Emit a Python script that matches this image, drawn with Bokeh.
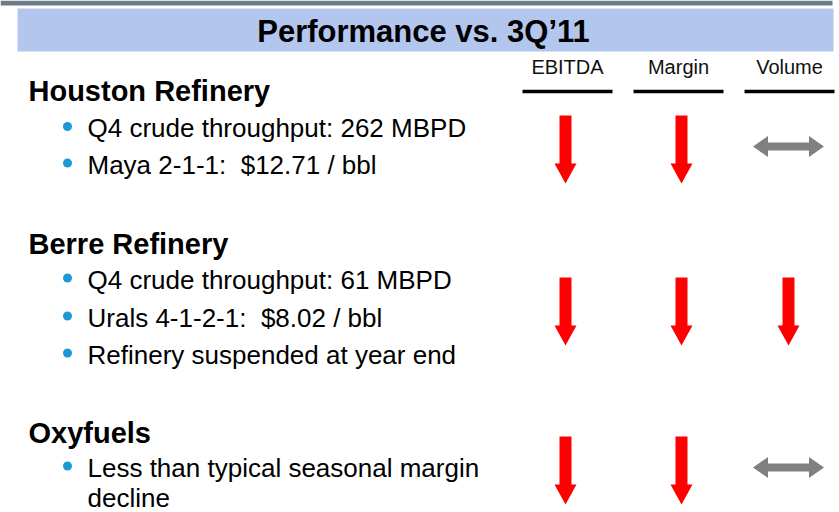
from bokeh.plotting import figure
from bokeh.core.properties import value
from bokeh.embed import file_html
from bokeh.resources import INLINE

# ---------------- data ----------------
title = "Performance vs. 3Q\u201911"
metrics = ["EBITDA", "Margin", "Volume"]
segments = ["Houston Refinery", "Berre Refinery", "Oxyfuels"]
bullets = [
    ["Q4 crude throughput: 262 MBPD", "Maya 2-1-1:\u00a0 $12.71 / bbl"],
    ["Q4 crude throughput: 61 MBPD", "Urals 4-1-2-1:\u00a0 $8.02 / bbl", "Refinery suspended at year end"],
    ["Less than typical seasonal margin\ndecline"],
]
# trend vs 3Q'11 per segment: -1 = down, 0 = unchanged
ebitda_trend = [-1, -1, -1]
margin_trend = [-1, -1, -1]
volume_trend = [0, -1, 0]

# ---------------- layout (style) ----------------
FONT = "Liberation Sans"
W, H = 839, 512
band = dict(left=17, right=833, top=8, bottom=51, color="#b3c6ee")
stripe = dict(left=0, right=832, top=0, bottom=5, color="#6b7b87")
title_xy = (423, 31)
col_center = [567, 678, 789]
col_arrow_x = [565, 681, 788]
header_y = 66
rule_y = 91
rule_half = 45
heading_x = 28
heading_y = [90.5, 243.5, 432]
line_y = [[127.5, 164], [279, 317, 354], [467, 497]]
bullet_x, text_x = 67, 87
arrow_top = [115, 277, 436]
RED, GREY, DOT = "#ff0000", "#808080", "#1b98d5"

p = figure(width=W, height=H, x_range=(0, W), y_range=(H, 0),
           output_backend="svg", toolbar_location=None, min_border=0)
p.axis.visible = False
p.grid.visible = False
p.outline_line_color = None
p.background_fill_color = "white"
p.border_fill_color = "white"

# top stripe and header band
p.quad(left=[stripe["left"]], right=[stripe["right"]], top=[stripe["top"]], bottom=[stripe["bottom"]],
       fill_color=stripe["color"], line_color=None)
p.quad(left=[band["left"]], right=[band["right"]], top=[band["top"]], bottom=[band["bottom"]],
       fill_color=band["color"], line_color=None)
p.text(x=[title_xy[0]], y=[title_xy[1]], text=[title], text_font=value(FONT),
       text_font_size="31px", text_font_style="bold", text_align="center",
       text_baseline="middle", text_color="black")

# column headers & rules
p.text(x=col_center, y=[header_y] * 3, text=metrics, text_font=value(FONT),
       text_font_size="20px", text_align="center", text_baseline="middle",
       text_color="#111111")
p.segment(x0=[c - rule_half for c in col_center], x1=[c + rule_half for c in col_center],
          y0=[rule_y] * 3, y1=[rule_y] * 3, line_color="black", line_width=3.5)

# segment headings
p.text(x=[heading_x] * len(segments), y=heading_y, text=segments,
       text_font=value(FONT), text_font_size="29px", text_font_style="bold",
       text_baseline="middle", text_color="black")

# bullets
bx, by, tx, ty, tt = [], [], [], [], []
for i, items in enumerate(bullets):
    k = 0
    for item in items:
        for j, line in enumerate(item.split("\n")):
            yc = line_y[i][k]
            if j == 0:
                bx.append(bullet_x)
                by.append(yc - 1.5)
            tx.append(text_x)
            ty.append(yc)
            tt.append(line)
            k += 1
p.scatter(x=bx, y=by, size=9, marker="circle", fill_color=DOT, line_color=None)
p.text(x=tx, y=ty, text=tt, text_font=value(FONT), text_font_size="26px",
       text_baseline="middle", text_color="black")

# trend arrows
def down_arrow(cx, top, L=68, hl=20, sw=6, hw=11):
    xs = [cx - sw, cx + sw, cx + sw, cx + hw, cx, cx - hw, cx - sw]
    ys = [top, top, top + L - hl, top + L - hl, top + L, top + L - hl, top + L - hl]
    return xs, ys

def flat_arrow(cx, cy, hL=35.5, hl=15, hh=10.5, st=4):
    xs = [cx - hL, cx - hL + hl, cx - hL + hl, cx + hL - hl, cx + hL - hl, cx + hL,
          cx + hL - hl, cx + hL - hl, cx - hL + hl, cx - hL + hl]
    ys = [cy, cy - hh, cy - st, cy - st, cy - hh, cy, cy + hh, cy + st, cy + st, cy + hh]
    return xs, ys

rx, ry, gx, gy = [], [], [], []
for ci, trend in enumerate([ebitda_trend, margin_trend, volume_trend]):
    for ri, t in enumerate(trend):
        if t < 0:
            xs, ys = down_arrow(col_arrow_x[ci], arrow_top[ri])
            rx.append(xs); ry.append(ys)
        else:
            xs, ys = flat_arrow(col_arrow_x[ci], arrow_top[ri] + 31)
            gx.append(xs); gy.append(ys)
p.patches(xs=rx, ys=ry, fill_color=RED, line_color=None)
p.patches(xs=gx, ys=gy, fill_color=GREY, line_color=None)

open("out.html", "w").write(file_html(p, INLINE))
